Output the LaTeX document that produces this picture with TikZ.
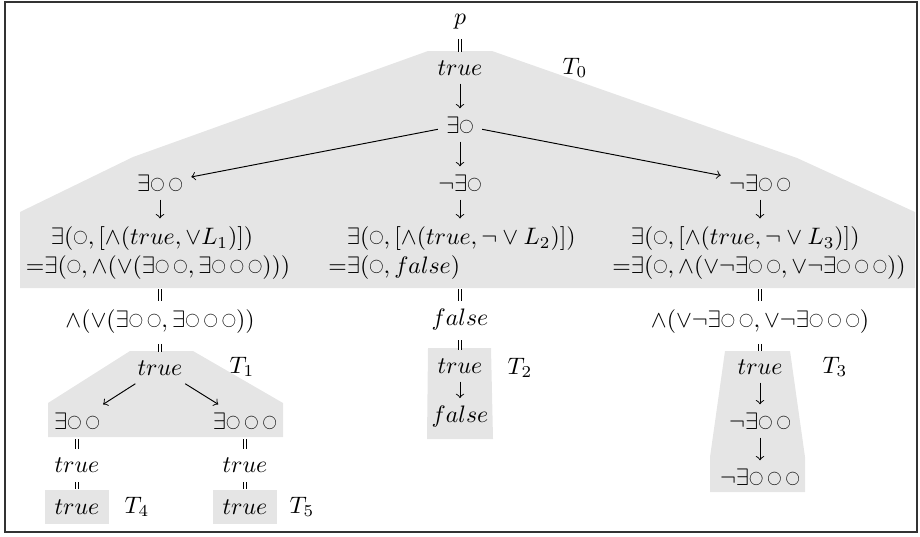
\documentclass[tikz,border=0pt]{standalone}
\usepackage{amsmath,amssymb}
\usepackage{tikz}
\newcommand{\vx}{\mathord{\raisebox{1.3pt}{\scalebox{0.6}{$\bigcirc$}}}}

\begin{document}
\begin{tikzpicture}[x=0.42pt, y=-0.42pt, >=to, tree/.style={fill=black!10}, eqline/.style={double, line width=0.35pt, double distance=0.8pt, shorten <=0.6pt, shorten >=0.2pt}, leaf/.style={fill=black!10, inner sep=4pt}]
	\useasboundingbox (0,0) rectangle (920,536);
	\draw[black!80, line width=0.7pt] (5,2) rectangle (917,532);
	\fill[tree] (428,51) -- (492,51) -- (797,158) -- (915,212) -- (915,288) -- (20,288) -- (20,212) -- (133,157) -- cycle;
	\fill[tree] (130,351) -- (193,351) -- (283,403) -- (283,437) -- (48,437) -- (48,403) -- cycle;
	\fill[tree] (428,348) -- (491,348) -- (493,439) -- (427,439) -- cycle;
	\fill[tree] (725,351) -- (790,351) -- (805,457) -- (805,492) -- (710,492) -- (710,457) -- cycle;
	\node (p) at (460,22) {$p$};
	\node (t0) at (460,68) {$true$};
	\node (T0) at (575,68) {$T_0$};
	\node (e0) at (460,125) {$\exists\vx$};
	\node (a) at (160,183) {$\exists\vx\,\vx$};
	\node (b) at (460,183) {$\neg\exists\vx$};
	\node (c) at (760,183) {$\neg\exists\vx\,\vx$};
	\node[align=left] (f1) at (158,253) {$\hphantom{=}\;\exists(\vx,[\wedge(true,\vee L_1)])$\\${=}\exists(\vx,\wedge(\vee(\exists\vx\,\vx,\exists\vx\,\vx\,\vx)))$};
	\node[align=left, anchor=west] (f2) at (320,253) {$\hphantom{=}\exists(\vx,[\wedge(true,\neg\vee L_2)])$\\${=}\exists(\vx,false)$};
	\node[align=left] (f3) at (759,253) {$\hphantom{=}\exists(\vx,[\wedge(true,\neg\vee L_3)])$\\${=}\exists(\vx,\wedge(\vee\neg\exists\vx\,\vx,\vee\neg\exists\vx\,\vx\,\vx))$};
	\node (r1) at (160,322) {$\wedge(\vee(\exists\vx\,\vx,\exists\vx\,\vx\,\vx))$};
	\node (r2) at (460,320) {$false$};
	\node (r3) at (760,322) {$\wedge(\vee\neg\exists\vx\,\vx,\vee\neg\exists\vx\,\vx\,\vx)$};
	\node (t1) at (160,368) {$true$};
	\node (T1) at (242,367) {$T_1$};
	\node (l1) at (77,421) {$\exists\vx\,\vx$};
	\node (l2) at (245,421) {$\exists\vx\,\vx\,\vx$};
	\node (u1) at (77,465) {$true$};
	\node (u2) at (245,465) {$true$};
	\node[leaf] (v1) at (77,507) {$true$};
	\node[leaf] (v2) at (245,507) {$true$};
	\node (T4) at (137,507) {$T_4$};
	\node (T5) at (302,507) {$T_5$};
	\node (t2) at (460,366) {$true$};
	\node (T2) at (520,368) {$T_2$};
	\node (g2) at (460,417) {$false$};
	\node (t3) at (760,367) {$true$};
	\node (T3) at (835,367) {$T_3$};
	\node (m1) at (760,421) {$\neg\exists\vx\,\vx$};
	\node (m2) at (760,477) {$\neg\exists\vx\,\vx\,\vx$};
	\draw[eqline] (p) -- (t0);
	\draw[->] (t0) -- (e0);
	\draw[->] (e0) -- (a);
	\draw[->] (e0) -- (b);
	\draw[->] (e0) -- (c);
	\draw[->] (a) -- (a |- f1.north);
	\draw[->] (b) -- (b |- f2.north);
	\draw[->] (c) -- (c |- f3.north);
	\draw[eqline] (f1.south -| r1) -- (r1);
	\draw[eqline] (f2.south -| r2) -- (r2);
	\draw[eqline] (f3.south -| r3) -- (r3);
	\draw[eqline] (r1) -- (t1);
	\draw[eqline] (r2) -- (t2);
	\draw[eqline] (r3) -- (t3);
	\draw[->] (t1) -- (l1);
	\draw[->] (t1) -- (l2);
	\draw[eqline] (l1) -- (u1);
	\draw[eqline] (u1) -- (v1);
	\draw[eqline] (l2) -- (u2);
	\draw[eqline] (u2) -- (v2);
	\draw[->] (t2) -- (g2);
	\draw[->] (t3) -- (m1);
	\draw[->] (m1) -- (m2);
\end{tikzpicture}
\end{document}
